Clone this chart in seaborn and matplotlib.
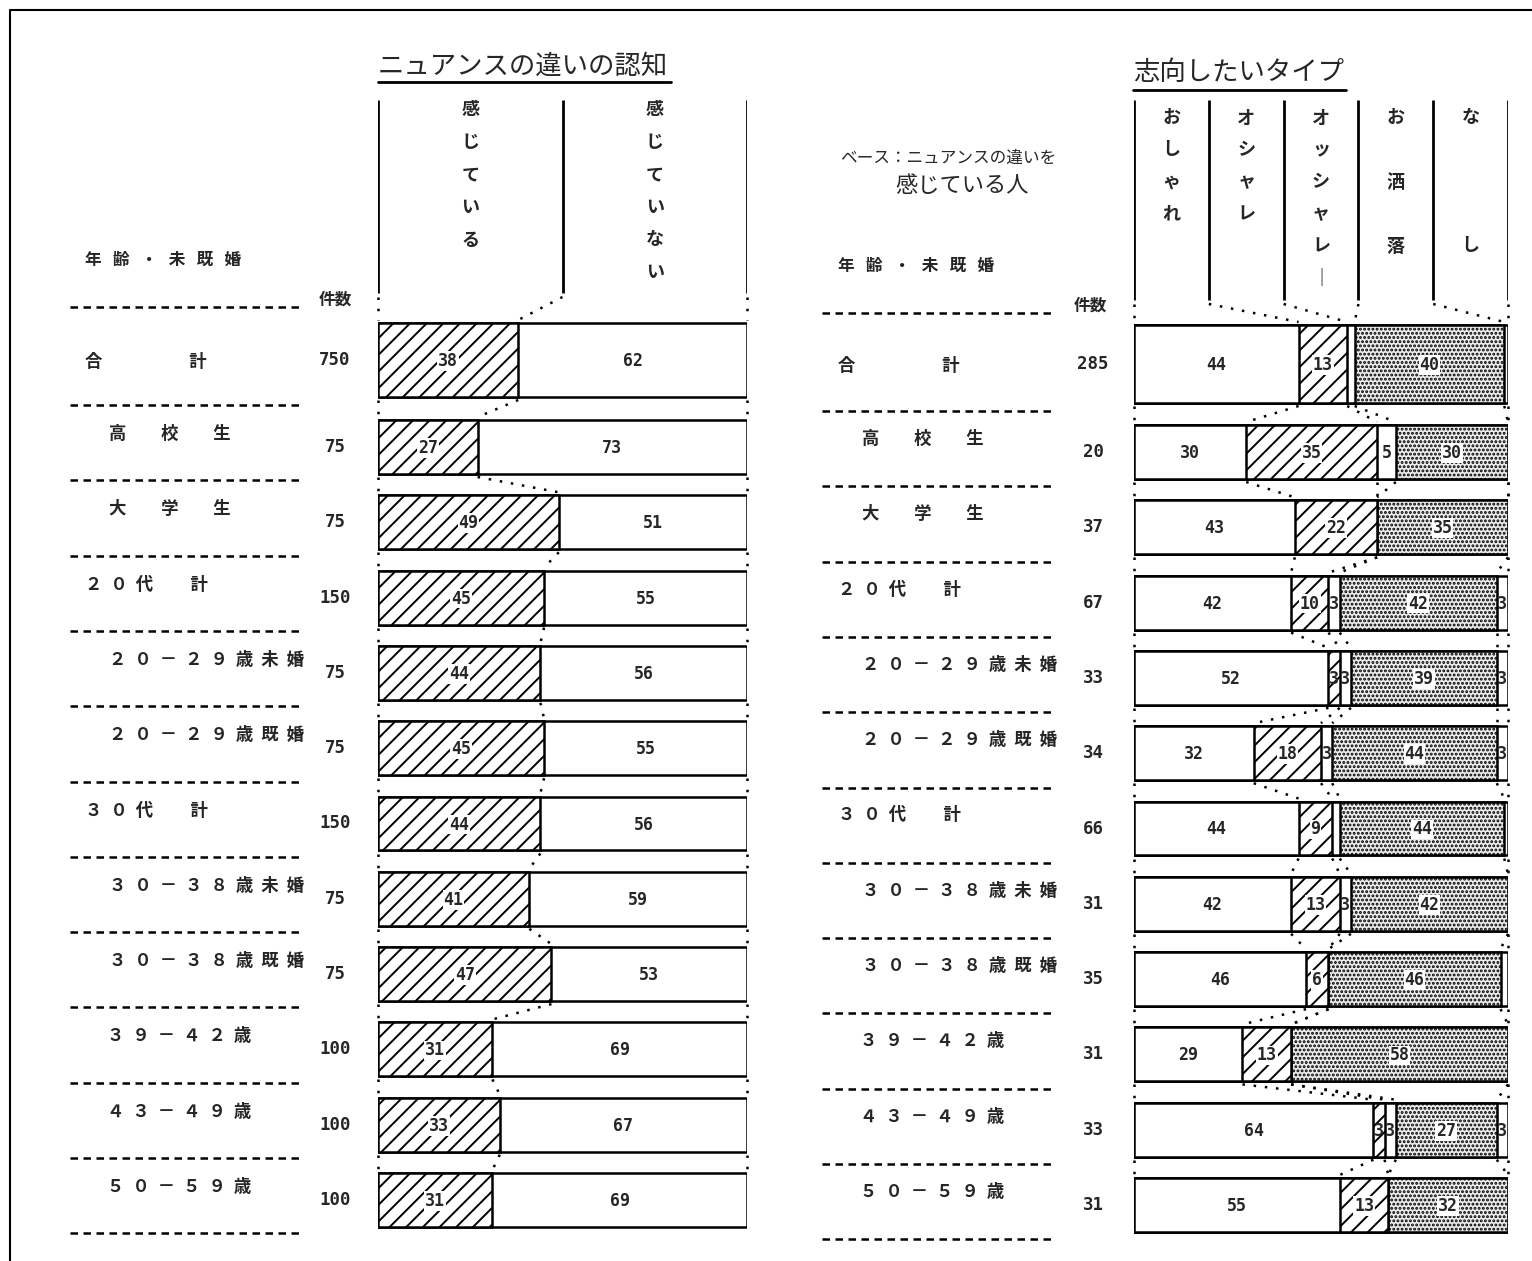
import matplotlib
matplotlib.use('Agg')
import matplotlib.pyplot as plt
import seaborn as sns
import numpy as np
import pandas as pd

# ---------------------------------------------------------------
# data
# ---------------------------------------------------------------
labels_left = ['合　　　　　計', '高　　校　　生', '大　　学　　生', '２  ０  代　     計',
               '２  ０  －  ２  ９  歳  未  婚', '２  ０  －  ２  ９  歳  既  婚',
               '３  ０  代　     計',
               '３  ０  －  ３  ８  歳  未  婚', '３  ０  －  ３  ８  歳  既  婚',
               '３  ９  －  ４  ２  歳', '４  ３  －  ４  ９  歳', '５  ０  －  ５  ９  歳']
labels_right = labels_left

count_left = [750, 75, 75, 150, 75, 75, 150, 75, 75, 100, 100, 100]
feel_yes = [38, 27, 49, 45, 44, 45, 44, 41, 47, 31, 33, 31]
feel_no = [62, 73, 51, 55, 56, 55, 56, 59, 53, 69, 67, 69]

count_right = [285, 20, 37, 67, 33, 34, 66, 31, 35, 31, 33, 31]
oshare_hira = [44, 30, 43, 42, 52, 32, 44, 42, 46, 29, 64, 55]
oshare_kata = [13, 35, 22, 10, 3, 18, 9, 13, 6, 13, 3, 13]
osshare = [2, 5, 0, 3, 3, 3, 2, 3, 0, 0, 3, 0]
oshare_kanji = [40, 30, 35, 42, 39, 44, 44, 42, 46, 58, 27, 32]
nashi = [1, 0, 0, 3, 3, 3, 1, 0, 2, 0, 3, 0]

head_left = ['感じている', '感じていない']
head_right = ['おしゃれ', 'オシャレ', 'オッシャレー', 'お　洒　落', 'な　　　し']

# ---------------------------------------------------------------
# style
# ---------------------------------------------------------------
sns.set_style('white')
plt.rcParams['font.family'] = ['Noto Sans CJK JP', 'DejaVu Sans']
plt.rcParams['hatch.linewidth'] = 1.4
MONO = 'DejaVu Sans Mono'

W, H = 1532, 1261
fig = plt.figure(figsize=(W / 100, H / 100), dpi=100)
ax0 = fig.add_axes([0, 0, 1, 1])
ax0.set_xlim(0, W)
ax0.set_ylim(H, 0)
ax0.axis('off')

# frame
ax0.plot([10, 10, W], [H, 10, 10], color='black', lw=1.5)

STEP = 75.3
BAR_H = 54


def row_centers(first, second):
    return np.array([first] + [second + i * STEP for i in range(11)])


def stacked(ax, segs, styles, centers, h0):
    segs = np.array(segs, dtype=float)
    cum = np.cumsum(segs, axis=0)
    heights = np.array([h0] + [BAR_H] * 11)
    for k in reversed(range(len(segs))):
        face, hatch = styles[k]
        df = pd.DataFrame({'y': centers, 'x': cum[k]})
        sns.barplot(data=df.iloc[1:], x='x', y='y', orient='y', native_scale=True,
                    width=BAR_H / STEP, color=face, saturation=1, hatch=hatch,
                    edgecolor='black', linewidth=1.8, errorbar=None, ax=ax)
        sns.barplot(data=df.iloc[:1], x='x', y='y', orient='y', native_scale=True,
                    width=h0, color=face, saturation=1, hatch=hatch,
                    edgecolor='black', linewidth=1.8, errorbar=None, ax=ax)
    # value labels
    for k in range(len(segs)):
        face, hatch = styles[k]
        for i in range(segs.shape[1]):
            v = segs[k, i]
            if v < 3:
                continue
            x = cum[k, i] - v / 2
            bbox = None
            if hatch and v >= 6:
                bbox = dict(facecolor='white', edgecolor='none', pad=0.6)
            ax.text(x, centers[i] + 1, f'{int(v)}', ha='center', va='center',
                    fontsize=12, family=MONO, fontweight='bold', bbox=bbox,
                    zorder=5)
    # dotted connectors between bars
    bounds = np.vstack([np.zeros(segs.shape[1]), cum])
    for i in range(segs.shape[1] - 1):
        y1 = centers[i] + heights[i] / 2 + 3
        y2 = centers[i + 1] - heights[i + 1] / 2 - 3
        for b in range(bounds.shape[0]):
            ax.plot([bounds[b, i], bounds[b, i + 1]], [y1, y2], color='black',
                    lw=1.8, ls=(0, (1, 3.5)), clip_on=False)
    ax.set_xlim(0, 100)
    ax.set_ylim(H, 0)
    ax.axis('off')
    return bounds


def header(ax, names, dividers, bounds, top_y, y0, char_step, line_bottom, first_top):
    ax.vlines(dividers, top_y, line_bottom, color='black', lw=2)
    for j, name in enumerate(names):
        xc = (dividers[j] + dividers[j + 1]) / 2
        for m, ch in enumerate(name):
            if ch == '　':
                continue
            if ch == 'ー':
                ch = '｜'
            ax.text(xc, y0 + m * char_step, ch, ha='center', va='center',
                    fontsize=13, fontweight='bold')
    for d, b in zip(dividers, bounds):
        ax.plot([d, b], [line_bottom + 4, first_top - 3], color='black', lw=1.8,
                ls=(0, (1, 3.5)), clip_on=False)


def side_labels(x_lab, x_cnt, x_line0, x_line1, labels, counts, centers,
                sep_first, indent):
    for i, (lab, c) in enumerate(zip(labels, counts)):
        ly = centers[i] + 2 if i == 0 else centers[i] - 13
        ax0.text(x_lab + indent[i], ly, lab, ha='left', va='center', fontsize=12.5,
                 fontweight='bold')
        ax0.text(x_cnt, centers[i], str(c), ha='center', va='center',
                 fontsize=12.5, family=MONO, fontweight='bold')
    seps = [sep_first] + [sep_first + 98 + i * STEP for i in range(12)]
    for s in seps:
        ax0.plot([x_line0, x_line1], [s, s], color='black', lw=1.8,
                 ls=(0, (3, 2.2)))


indent = [0, 24, 24, 0, 24, 24, 0, 24, 24, 22, 22, 22]

# ---------------------------------------------------------------
# left panel
# ---------------------------------------------------------------
cl = row_centers(360, 447)
axL = fig.add_axes([378 / W, 0, 369 / W, 1])
bl = stacked(axL, [feel_yes, feel_no],
             [('white', '//'), ('white', None)], cl, 74)
header(axL, head_left, [0, 50, 100], bl[:, 0], 100, 110, 32.5, 293, cl[0] - 37)

ax0.text(378, 66, 'ニュアンスの違いの認知', ha='left', va='center', fontsize=19)
ax0.plot([378, 671], [82, 82], color='black', lw=2)
ax0.text(85, 260, '年   齢   ・   未   既   婚', ha='left', va='center', fontsize=12,
         fontweight='bold')
ax0.text(335, 300, '件数', ha='center', va='center', fontsize=12, fontweight='bold')
side_labels(85, 335, 70, 300, labels_left, count_left, cl, 307, indent)

# ---------------------------------------------------------------
# right panel
# ---------------------------------------------------------------
cr = row_centers(364, 452)
axR = fig.add_axes([1134 / W, 0, 374 / W, 1])
br = stacked(axR, [oshare_hira, oshare_kata, osshare, oshare_kanji, nashi],
             [('white', None), ('white', '//'), ('white', None),
              ('#ececec', '....'), ('white', None)], cr, 78)
header(axR, head_right, [0, 20, 40, 60, 80, 100], br[:, 0], 100, 118, 32, 300,
       cr[0] - 39)

ax0.text(1133, 72, '志向したいタイプ', ha='left', va='center', fontsize=19)
ax0.plot([1133, 1346], [90, 90], color='black', lw=2)
ax0.text(840, 158, 'ベース：ニュアンスの違いを', ha='left', va='center', fontsize=12)
ax0.text(895, 186, '感じている人', ha='left', va='center', fontsize=16)
ax0.text(838, 266, '年   齢   ・   未   既   婚', ha='left', va='center', fontsize=12,
         fontweight='bold')
ax0.text(1090, 306, '件数', ha='center', va='center', fontsize=12, fontweight='bold')
side_labels(838, 1093, 822, 1055, labels_right, count_right, cr, 313, indent)

fig.savefig('out.png', dpi=100)
